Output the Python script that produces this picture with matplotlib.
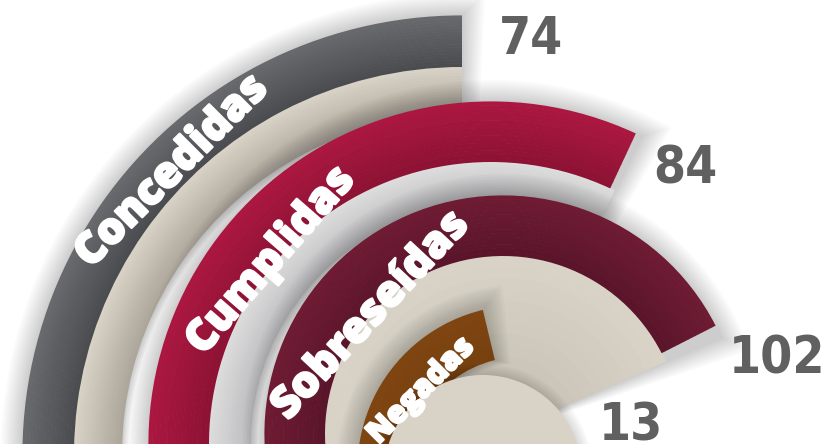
import numpy as np
import matplotlib.pyplot as plt
import matplotlib.patheffects as pe
from matplotlib import font_manager as fm
from matplotlib.colors import to_rgb

categorias = ['Concedidas', 'Cumplidas', 'Sobreseídas', 'Negadas']
valores = [74, 84, 102, 13]
# angle (deg, 180 = left, 90 = top) where each coloured arc stops
fin_arco = [90, 65, 27, 103.5]

W, H = 824, 444
# each ring group is drawn around its own centre (pixels from top-left) like the original artwork
centros = [(462, 455), (491, 444), (503, 434), (521, 469)]
banda = [(388, 439), (282, 342), (178, 238), (112, 163)]
fondo = [(340, 388), (240, 282), (0, 178), None]
fin_fondo = [90, 64, 24, None]
col_banda = [('#68696d', '#4b4c50'), ('#ab1741', '#8d1234'),
             ('#6e1b33', '#5a152a'), ('#7f4511', '#76400f')]
col_fondo = [('#d8d2c6', '#aca69b'), ('#dcdcdd', '#bdbdbf'),
             ('#d9d3c7', '#c4beb2'), None]
disco = (483, 474, 99)
inicio = 200

fig = plt.figure(figsize=(W / 100, H / 100), dpi=100)


def eje_polar(cx, cy, R=520):
    ax = fig.add_axes([(cx - R) / W, (H - cy - R) / H, 2 * R / W, 2 * R / H], projection='polar')
    ax.set_ylim(0, R)
    ax.set_axis_off()
    return ax


def anillo(ax, r0, r1, a1, c_out, c_in, n=16):
    c_out, c_in = np.array(to_rgb(c_out)), np.array(to_rgb(c_in))
    edges = np.linspace(r0, r1, n + 1)
    for i in range(n):
        t = i / (n - 1)
        c = c_in * (1 - t) + c_out * t
        ax.bar(np.deg2rad((inicio + a1) / 2), edges[i + 1] - edges[i] + 0.6,
               width=np.deg2rad(inicio - a1), bottom=edges[i],
               color=c, linewidth=0)


def sombra(ax, r0, r1, a1, capas=10, paso=2.2, alfa=0.018):
    for k in range(capas, 0, -1):
        ext = k * paso
        da = np.rad2deg(ext / r1)
        b = max(r0 - ext * 0.3, 0)
        ax.bar(np.deg2rad((inicio + a1 - da) / 2), r1 + ext - b,
               width=np.deg2rad(inicio - a1 + da), bottom=b,
               color='black', alpha=alfa, linewidth=0)


for i in range(len(categorias)):
    ax = eje_polar(*centros[i])
    r_min = fondo[i][0] if fondo[i] else banda[i][0]
    a_min = min(fin_arco[i], fin_fondo[i]) if fondo[i] else fin_arco[i]
    sombra(ax, r_min, banda[i][1], a_min)
    if fondo[i]:
        anillo(ax, fondo[i][0], fondo[i][1], fin_fondo[i], *col_fondo[i])
    anillo(ax, banda[i][0], banda[i][1], fin_arco[i], *col_banda[i])

# centre disc
ax = eje_polar(disco[0], disco[1])
for k in range(7, 0, -1):
    ax.bar(0, disco[2] + k * 1.6, width=2 * np.pi, bottom=0, color='black', alpha=0.02, linewidth=0)
ax.bar(0, disco[2], width=2 * np.pi, bottom=0, color='#d9d3c7', linewidth=0)


def peso(f):
    if isinstance(f.weight, (int, float)):
        return int(f.weight)
    return {'bold': 700, 'heavy': 900, 'black': 900, 'extra bold': 800,
            'semibold': 600}.get(str(f.weight).lower(), 400)


# heaviest installed face for the arc labels
mejor = {}
for f in fm.fontManager.ttflist:
    if f.style == 'normal' and f.stretch == 'normal':
        if peso(f) > mejor.get(f.name, (0, None))[0]:
            mejor[f.name] = (peso(f), f.fname)
lab_file = None
for fam in ['Open Sans', 'Lato', 'Noto Sans', 'Roboto', 'Inter', 'DejaVu Sans']:
    if fam in mejor and mejor[fam][0] >= 800:
        lab_file = mejor[fam][1]
        break
if lab_file is None:
    lab_file = max(mejor.values())[1]

# labels on the arcs
lab_pos = [(172, 172, 45, 31), (271, 261, 49, 31), (371, 316, 47, 31), (421, 391, 45, 22)]
for nombre, (x, y, rot, fs) in zip(categorias, lab_pos):
    fig.text(x / W, 1 - y / H, nombre, rotation=rot, rotation_mode='anchor',
             ha='center', va='center', color='white',
             fontproperties=fm.FontProperties(fname=lab_file, size=fs),
             path_effects=[pe.withStroke(linewidth=1.6, foreground='white')])

# condensed bold face for the numbers
num_font = None
for f in fm.fontManager.ttflist:
    if ('Narrow' in f.name or 'Condensed' in f.name or f.stretch == 'condensed') \
            and peso(f) >= 700 and f.style == 'normal':
        if num_font is None or 'Liberation' in f.name:
            num_font = f.fname
if num_font:
    num_prop = fm.FontProperties(fname=num_font, size=37)
else:
    num_prop = fm.FontProperties(family='DejaVu Sans', weight='bold', size=33)

val_pos = [(531, 40), (685, 170), (777, 359), (631, 426)]
for v, (x, y) in zip(valores, val_pos):
    fig.text(x / W, 1 - y / H, str(v), ha='center', va='center', color='#606060',
             fontproperties=num_prop)

fig.savefig('out.png', dpi=100, facecolor='white')
